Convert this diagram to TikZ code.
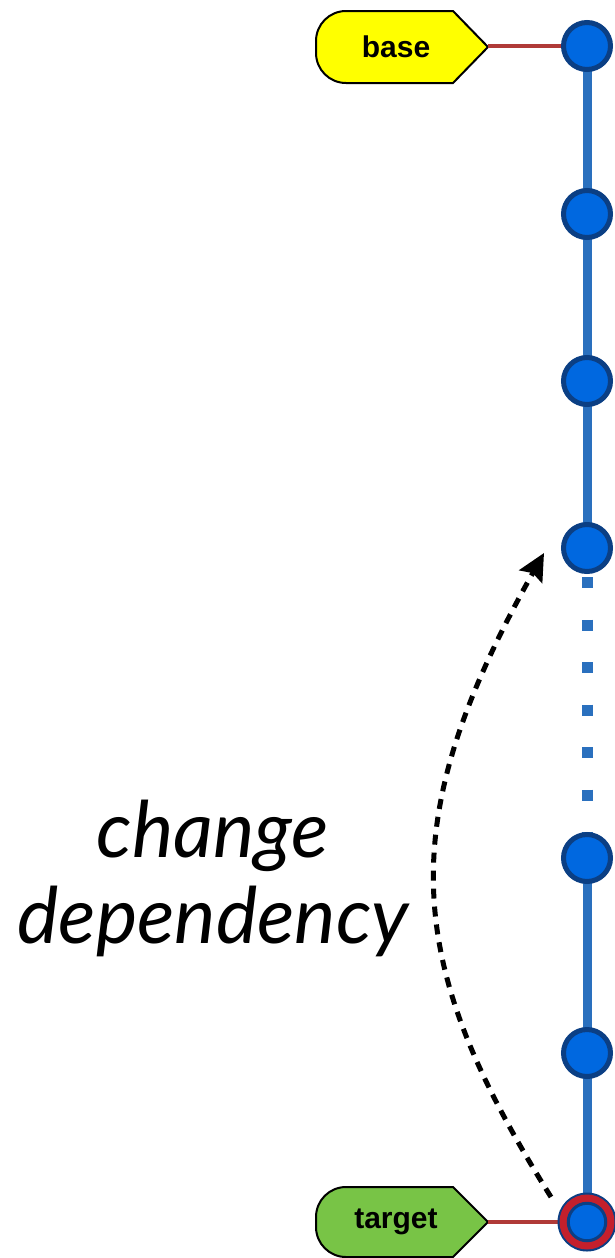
\documentclass[tikz,border=0pt]{standalone}
\usepackage{fontspec}
\setmainfont{Liberation Sans}
\newfontfamily\labelfont{Lato}
\usetikzlibrary{arrows.meta}
\definecolor{commitfill}{HTML}{0068E0}
\definecolor{commitedge}{HTML}{0B3F84}
\definecolor{spine}{HTML}{2A70BE}
\definecolor{reflink}{HTML}{B03A38}
\definecolor{targetring}{HTML}{C4202C}
\definecolor{basefill}{HTML}{FFFF00}
\definecolor{targetfill}{HTML}{78C446}
\tikzset{
  commit/.style={circle, inner sep=0pt, minimum size=47pt, line width=5pt,
    draw=commitedge, fill=commitfill},
  spineline/.style={draw=spine, line width=9pt},
  spinedots/.style={draw=spine, line width=11pt, dash pattern=on 11pt off 31.5pt},
  refline/.style={draw=reflink, line width=3.2pt},
  tagbox/.style={draw=black, line width=2pt},
  taglabel/.style={font=\bfseries\fontsize{30}{36}\selectfont, inner sep=0pt},
  depend/.style={line width=5pt, dash pattern=on 10pt off 8pt,
    -{Stealth[length=27pt, width=26pt, inset=4pt]}},
  note/.style={font=\labelfont\itshape\fontsize{78}{94}\selectfont, align=center, inner sep=0pt}
}
\begin{document}
\begin{tikzpicture}[x=1pt, y=-1pt]
\useasboundingbox (0,0) rectangle (615,1258);

% commit positions along the branch
\coordinate (p1) at (587,46);
\coordinate (p2) at (587,214);
\coordinate (p3) at (587,381);
\coordinate (p4) at (587,548);
\coordinate (p5) at (587,858);
\coordinate (p6) at (587,1053);
\coordinate (p7) at (587,1222);

% branch line, with the elided stretch drawn dotted
\draw[spineline] (p1) -- (p4);
\draw[spinedots] (587,577) -- (587,858);
\draw[spineline] (p5) -- (p7);

% ref labels (y axis points down, so arcs turn the other way)
\draw[tagbox, fill=basefill] (453,11) -- (488,47) -- (453,83) -- (346,83)
  arc[start angle=90, end angle=180, radius=30] -- (316,41)
  arc[start angle=180, end angle=270, radius=30] -- cycle;
\node[taglabel] (base) at (396,47) {base};
\coordinate (basetip) at (488,46);

\draw[tagbox, fill=targetfill] (453,1187) -- (488,1222) -- (453,1257) -- (346,1257)
  arc[start angle=90, end angle=180, radius=30] -- (316,1217)
  arc[start angle=180, end angle=270, radius=30] -- cycle;
\node[taglabel] (target) at (396,1222) {target};
\coordinate (targettip) at (488,1222);

% links from the labels to their commits
\draw[refline] (basetip) -- (p1);
\draw[refline] (targettip) -- (p7);

% commits
\node[commit] (c1) at (p1) {};
\node[commit] (c2) at (p2) {};
\node[commit] (c3) at (p3) {};
\node[commit] (c4) at (p4) {};
\node[commit] (c5) at (p5) {};
\node[commit] (c6) at (p6) {};
\fill[commitedge] (p7) circle[radius=29.5];
\fill[targetring] (p7) circle[radius=27.5];
\node[commit, minimum size=37.5pt, line width=3pt] (c7) at (p7) {};

% dependency change
\coordinate (depfrom) at (551,1197);
\coordinate (depto) at (544,553);
\draw[depend] (depfrom) .. controls (405,964) and (390,827) .. (depto);
\node[note] (lbl) at (213,878) {change\\[-8pt]dependency};
\end{tikzpicture}
\end{document}
